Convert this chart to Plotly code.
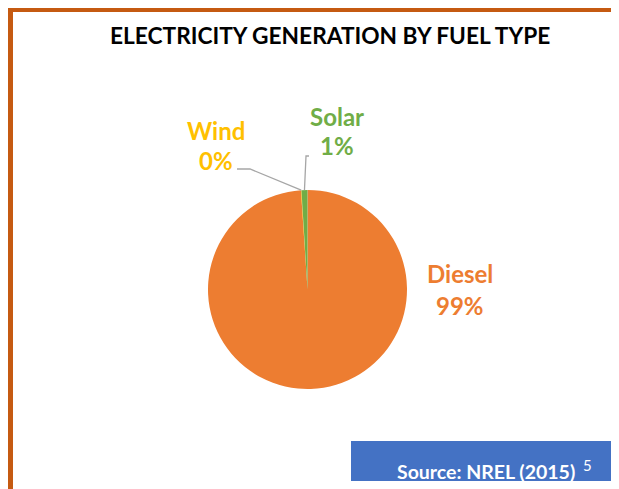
import math
import plotly.graph_objects as go

# ---- data ----
categories = ["Diesel", "Wind", "Solar"]
values = [98.95, 0.08, 0.97]
colors = ["#ED7D31", "#FFC000", "#70AD47"]
title_text = "ELECTRICITY GENERATION BY FUEL TYPE"
source_text = "Source: NREL (2015)"
footnote = "5"

W, H = 619, 489
FONT = "Lato"
OFF = 8  # page body margin

def px(x):
    return (x - OFF) / W

def py(y):
    return 1 - (y - OFF) / H

# pie geometry (page pixels)
cx, cy, r = 307.5, 289.5, 99.5

fig = go.Figure(go.Pie(
    labels=categories, values=values, sort=False, direction="clockwise",
    rotation=0, marker=dict(colors=colors, line=dict(width=0)),
    textinfo="none", hoverinfo="label+percent", showlegend=False,
    domain=dict(x=[px(cx - r), px(cx + r)], y=[py(cy + r), py(cy - r)]),
))

total = sum(values)
pcts = [v / total * 100 for v in values]

mids = []
acc = 0
for p in pcts:
    mids.append((acc + p / 2) * 3.6)
    acc += p

def edge(ang):
    a = math.radians(ang)
    return cx + r * math.sin(a), cy - r * math.cos(a)

annotations = []
shapes = []

# frame
shapes.append(dict(type="rect", xref="paper", yref="paper",
                   x0=px(10.5), x1=px(619.5), y0=py(540), y1=py(9.5),
                   line=dict(color="#C55A11", width=5), fillcolor="rgba(0,0,0,0)"))

# title
annotations.append(dict(text="<b>" + title_text + "</b>", x=px(330), y=py(35),
                        xref="paper", yref="paper", showarrow=False,
                        font=dict(family=FONT, size=22.7, color="#000000"),
                        xanchor="center", yanchor="middle"))

label_pos = {
    "Diesel": (459.5, 273, 305),
    "Wind": (215.5, 130, 160),
    "Solar": (336.5, 116, 146),
}
for cat, col, p in zip(categories, colors, pcts):
    lx, y1, y2 = label_pos[cat]
    annotations.append(dict(text="<b>" + cat + "</b>", x=px(lx), y=py(y1),
                            xref="paper", yref="paper", showarrow=False,
                            font=dict(family=FONT, size=24, color=col),
                            xanchor="center", yanchor="middle"))
    annotations.append(dict(text="<b>%d%%</b>" % round(p), x=px(lx), y=py(y2),
                            xref="paper", yref="paper", showarrow=False,
                            font=dict(family=FONT, size=24, color=col),
                            xanchor="center", yanchor="middle"))

leader_start = {"Wind": [(237, 169), (250, 169)], "Solar": [(309, 156), (306, 156)]}
for cat, m in zip(categories, mids):
    if cat not in leader_start:
        continue
    pts = leader_start[cat] + [edge(m)]
    path = "M " + " L ".join("%f,%f" % (px(x), py(y)) for x, y in pts)
    shapes.append(dict(type="path", xref="paper", yref="paper", path=path,
                       line=dict(color="#A6A6A6", width=1.3)))

# source box
shapes.append(dict(type="rect", xref="paper", yref="paper",
                   x0=px(351), x1=px(612), y0=py(481), y1=py(441),
                   line=dict(width=0), fillcolor="#4472C4"))
annotations.append(dict(text="<b>" + source_text + "</b>", x=px(577), y=py(471),
                        xref="paper", yref="paper", showarrow=False,
                        font=dict(family=FONT, size=19.5, color="#FFFFFF"),
                        xanchor="right", yanchor="middle"))
annotations.append(dict(text=footnote, x=px(587), y=py(465),
                        xref="paper", yref="paper", showarrow=False,
                        font=dict(family=FONT, size=15, color="#FFFFFF"),
                        xanchor="center", yanchor="middle"))

fig.update_layout(width=W, height=H, margin=dict(l=0, r=0, t=0, b=0),
                  paper_bgcolor="#FFFFFF", plot_bgcolor="#FFFFFF",
                  shapes=shapes, annotations=annotations)

fig.write_html("out.html")
